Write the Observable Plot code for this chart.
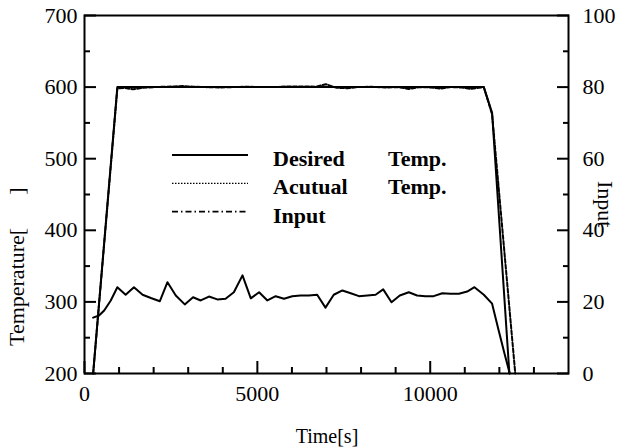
<!DOCTYPE html>
<html><head><meta charset="utf-8">
<script src="https://cdn.jsdelivr.net/npm/d3@7"></script>
<script src="https://cdn.jsdelivr.net/npm/@observablehq/plot@0.6"></script>
<style>body{margin:0;background:#fff} #chart svg text{font-family:'Liberation Serif','Times New Roman',serif !important;}</style>
</head><body><div id="chart"></div>
<script>
// Desired temperature (solid)
const desiredTime = [250, 950, 11550, 11790, 12290];
const desiredTemp = [200, 600, 600, 564, 200];
// Actual temperature (dashed)
const actualTime = [250, 950, 1150, 1400, 1700, 2000, 2300, 2600, 2850, 3150, 3500, 3900, 4300, 4700, 5100, 5500, 5900, 6300, 6700, 6980, 7300, 7600, 7900, 8300, 8700, 9050, 9380, 9700, 10000, 10300, 10600, 10900, 11170, 11400, 11550, 11790, 12460];
const actualTemp = [200, 598, 599, 597, 599, 600, 600.5, 601, 601.5, 600.5, 600, 599.5, 600, 600.5, 600, 600, 601, 601, 600.5, 604, 599, 598.5, 600, 600.5, 599.5, 600, 597.5, 600, 599.5, 598, 600, 599.5, 597.5, 599, 600, 562, 200];
// Input (right axis, 0-100)
const inputTime = [250, 420, 570, 760, 950, 1190, 1430, 1680, 1920, 2180, 2400, 2640, 2900, 3140, 3360, 3600, 3840, 4080, 4320, 4570, 4810, 5050, 5290, 5530, 5770, 6010, 6250, 6490, 6730, 6970, 7210, 7460, 7700, 7940, 8180, 8420, 8640, 8880, 9120, 9380, 9620, 9860, 10100, 10350, 10590, 10830, 11070, 11280, 11550, 11790, 11980, 12150, 12300];
const inputValue = [15.6, 16.2, 17.6, 20.4, 24.1, 22.0, 24.1, 22.0, 21.1, 20.2, 25.5, 21.8, 19.3, 21.3, 20.4, 21.5, 20.7, 20.9, 22.7, 27.4, 21.0, 22.7, 20.4, 21.6, 20.9, 21.6, 21.8, 21.8, 22.0, 18.4, 22.0, 23.2, 22.4, 21.6, 21.8, 22.0, 23.5, 19.9, 21.8, 22.7, 21.8, 21.6, 21.6, 22.4, 22.3, 22.3, 22.9, 24.1, 22.0, 19.5, 12.0, 5.5, 0];

const xMajorTicks = [0, 5000, 10000];
const xMinorTicks = [1000, 2000, 3000, 4000, 6000, 7000, 8000, 9000, 11000, 12000, 13000];
const yMajorTicks = [200, 300, 400, 500, 600, 700];
const yMinorTicks = [250, 350, 450, 550, 650];
const rightMajorTicks = [0, 20, 40, 60, 80, 100];
const rightMinorTicks = [10, 30, 50, 70, 90];
const legendNames = ["Desired", "Acutual", "Input"];
const legendSuffix = ["Temp.", "Temp.", ""];
const xTitle = "Time[s]";
const yTitle = "Temperature[\u00a0\u00a0\u00a0\u00a0\u00a0\u00a0]";
const rightTitle = "Input";

const toTemp = v => 200 + v * 5;   // right-axis value -> left scale
const desired = desiredTime.map((t, i) => ({t, v: desiredTemp[i]}));
const actual = actualTime.map((t, i) => ({t, v: actualTemp[i]}));
const input = inputTime.map((t, i) => ({t, v: toTemp(inputValue[i])}));

const font = "'Liberation Serif', 'Times New Roman', serif";
const chart = Plot.plot({
  width: 621, height: 448,
  marginLeft: 84, marginRight: 53, marginTop: 15, marginBottom: 75,
  style: {fontFamily: font, fontSize: "22px", background: "white", color: "black", overflow: "visible"},
  x: {domain: [0, 14000]},
  y: {domain: [200, 700]},
  marks: [
    Plot.line(input, {x: "t", y: "v", stroke: "black", strokeWidth: 2}),
    Plot.line(actual, {x: "t", y: "v", stroke: "black", strokeWidth: 2, strokeDasharray: "4,2"}),
    Plot.line(desired, {x: "t", y: "v", stroke: "black", strokeWidth: 2}),
    Plot.frame({stroke: "black", strokeWidth: 2}),
    Plot.axisX({ticks: xMajorTicks, tickSize: -12, tickPadding: 24, strokeWidth: 2, tickFormat: d => String(d), label: null}),
    Plot.axisX({ticks: xMinorTicks, tickSize: -6, strokeWidth: 2, tickFormat: () => "", label: null}),
    Plot.axisY({ticks: yMajorTicks, tickSize: -12, tickPadding: 19, strokeWidth: 2, tickFormat: d => String(d), label: null}),
    Plot.axisY({ticks: yMinorTicks, tickSize: -6, strokeWidth: 2, tickFormat: () => "", label: null}),
    Plot.axisY({anchor: "right", ticks: rightMajorTicks.map(toTemp), tickSize: -12, tickPadding: 26, strokeWidth: 2, tickFormat: d => String(Math.round((d - 200) / 5)), label: null}),
    Plot.axisY({anchor: "right", ticks: rightMinorTicks.map(toTemp), tickSize: -6, strokeWidth: 2, tickFormat: () => "", label: null})
  ]
});
document.getElementById("chart").appendChild(chart);

const svg = d3.select(chart);
// Axis titles
svg.append("text").attr("x", 327).attr("y", 443).attr("text-anchor", "middle")
  .style("font-size", "20px").text(xTitle);
svg.append("text").attr("transform", "translate(24,346) rotate(-90)").attr("text-anchor", "start")
  .style("font-size", "22px").text(yTitle);
svg.append("text").attr("transform", "translate(598,181) rotate(90)").attr("text-anchor", "start")
  .style("font-size", "22px").text(rightTitle);

// Legend
const dashes = [null, "1.5,1.5", "6,3,1.5,3"];
const widths = [2, 1.2, 1.6];
legendNames.forEach((name, i) => {
  const ly = 155 + i * 28.3;
  svg.append("line").attr("x1", 172).attr("x2", 248).attr("y1", ly).attr("y2", ly)
    .attr("stroke", "black").attr("stroke-width", widths[i]).attr("stroke-dasharray", dashes[i]);
  svg.append("text").attr("x", 273).attr("y", ly + 11).attr("text-anchor", "start")
    .style("font-size", "22px").style("font-weight", "bold").text(name);
  if (legendSuffix[i]) svg.append("text").attr("x", 388).attr("y", ly + 11).attr("text-anchor", "start")
    .style("font-size", "22px").style("font-weight", "bold").text(legendSuffix[i]);
});
</script>
</body></html>
